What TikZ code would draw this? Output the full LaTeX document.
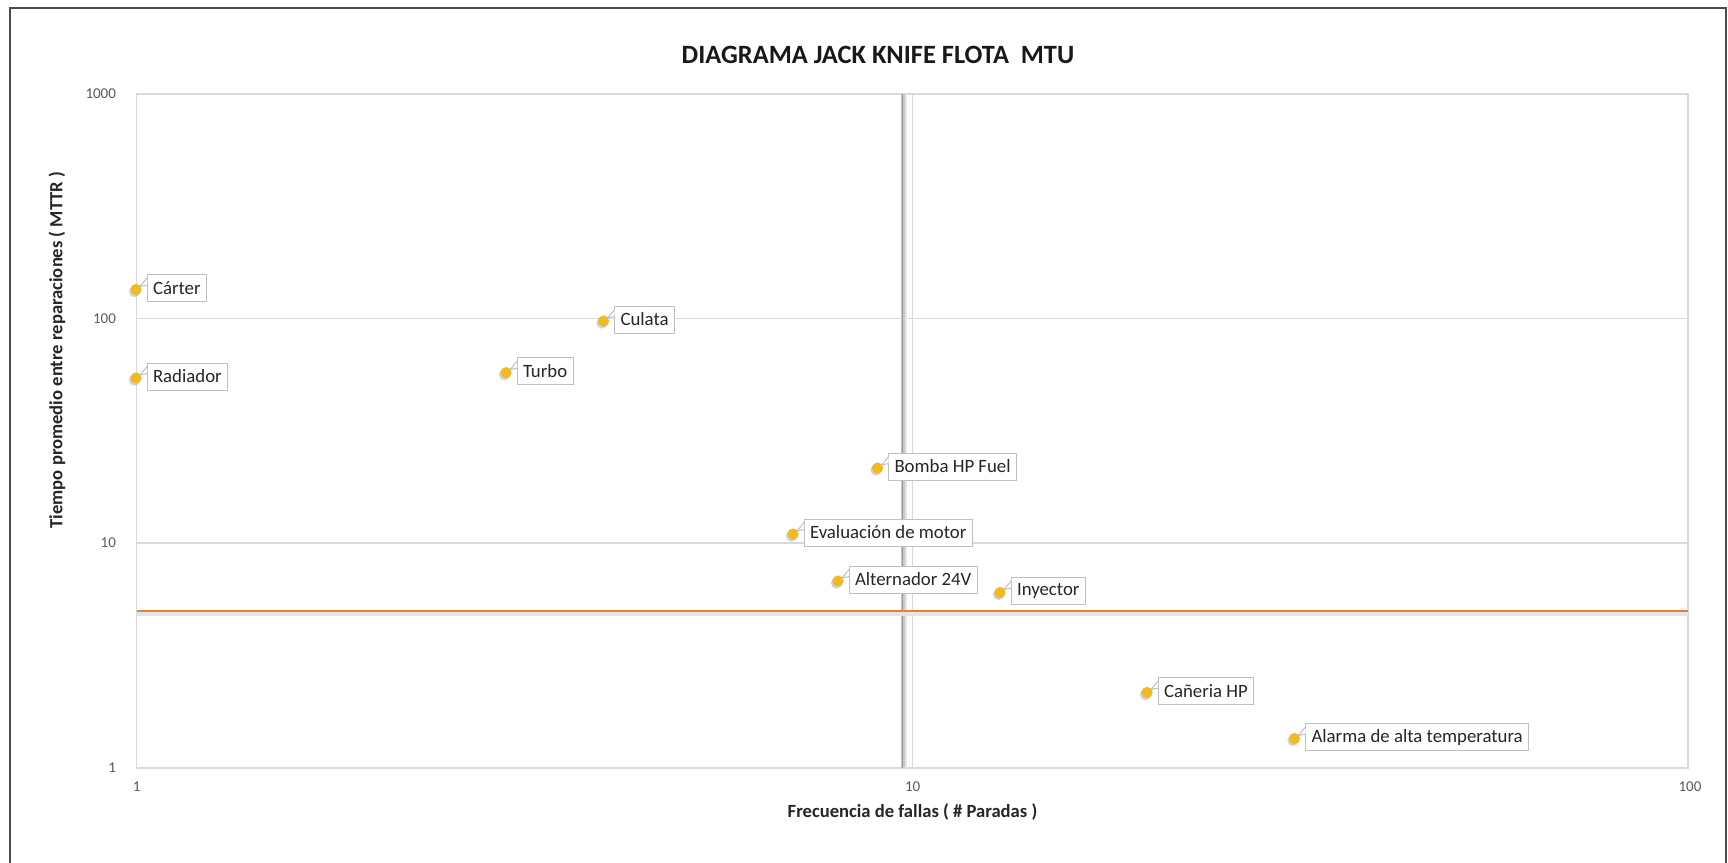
\documentclass[tikz,border=0pt]{standalone}
\usepackage{fontspec}
\setmainfont{Carlito}
\usetikzlibrary{calc}
\definecolor{gold}{RGB}{240,186,32}
\definecolor{orangeline}{RGB}{237,125,49}
\definecolor{gridc}{RGB}{217,217,217}
\definecolor{tickc}{RGB}{89,89,89}
\definecolor{boxc}{RGB}{191,191,191}
\begin{document}
\begin{tikzpicture}[x=0.5pt,y=-0.5pt,
  gridline/.style={draw=gridc, line width=0.6pt},
  framebox/.style={draw=gridc, line width=0.75pt},
  lbl/.style={draw=boxc, fill=white, line width=0.5pt, font=\fontsize{9.4}{10}\selectfont,
    inner xsep=3pt, inner ysep=0pt, minimum height=13.5pt, anchor=west, text=black!85},
  dotn/.style={circle, fill=gold, inner sep=0pt, minimum size=5.6pt},
  dotshadow/.style={circle, fill=black!40, opacity=0.45, inner sep=0pt, minimum size=5.6pt},
  ptr/.style={draw=boxc, line width=0.5pt, fill=white},
  ticklbl/.style={font=\fontsize{7.5}{8}\selectfont, text=tickc},
  axtitle/.style={font=\bfseries\fontsize{9.3}{10}\selectfont, text=black!85}]
\useasboundingbox (0,0) rectangle (1728,862);
\fill[white] (0,0) rectangle (1728,862);
% outer frame
\draw[black!70, line width=1pt] (10,875) -- (10,7.5) -- (1726,7.5) -- (1726,875);
% title
\node[font=\bfseries\fontsize{13.2}{15}\selectfont, anchor=base, text=black!90] (title) at (878,63.3) {DIAGRAMA JACK KNIFE FLOTA\ \ MTU};
% grid
\draw[gridline] (136.6,318.3) -- (1688,318.3);
\draw[gridline] (136.6,543) -- (1688,543);
\draw[gridline] (912.6,94) -- (912.6,768);
\draw[framebox] (136.6,94) rectangle (1688,768);
% vertical threshold line with shadow
\draw[black!10, line width=3pt] (904,94) -- (904,768);
\draw[black!22, line width=1.8pt] (903,94) -- (903,768);
\draw[black!40, line width=0.8pt] (902.5,94) -- (902.5,768);
% horizontal threshold line with shadow
\draw[black!10, line width=1.6pt] (136.6,614) -- (1688,614);
\draw[orangeline, line width=1pt] (136.6,611) -- (1688,611);
% tick labels
\node[ticklbl, anchor=east] (y1000) at (123,94) {1000};
\node[ticklbl, anchor=east] (y100) at (123,318.3) {100};
\node[ticklbl, anchor=east] (y10) at (123,543) {10};
\node[ticklbl, anchor=east] (y1) at (123,768) {1};
\node[ticklbl] (x1) at (136.6,787) {1};
\node[ticklbl] (x10) at (912.6,787) {10};
\node[ticklbl] (x100) at (1690,787) {100};
% axis titles
\node[axtitle, anchor=base] (xt) at (912.5,817) {Frecuencia de fallas ( \# Paradas )};
\node[axtitle, rotate=90] (yt) at (57,350) {Tiempo promedio entre reparaciones ( MTTR )};
% data points
\foreach \n/\x/\y/\t in {
  c/136/289.5/Cárter,
  r/136/378/Radiador,
  tu/506/372.7/Turbo,
  cu/603.5/321/Culata,
  b/877.5/468/Bomba HP Fuel,
  e/793/534/Evaluación de motor,
  a/838/581/Alternador 24V,
  i/1000/592.5/Inyector,
  ch/1147/692.5/Cañeria HP,
  al/1294.5/738.5/Alarma de alta temperatura}{
  \node[dotshadow] (s\n) at (\x-1.5,\y+2) {};
  \node[dotn] (d\n) at (\x,\y) {};
  \node[lbl] (l\n) at (\x+10.5,\y-1.5) {\t};
  \draw[ptr] ($(l\n.north west)+(0.6,4)$) -- ($(d\n)+(4,-3)$) -- ($(l\n.north west)+(0.6,11)$);
}
\end{tikzpicture}
\end{document}
